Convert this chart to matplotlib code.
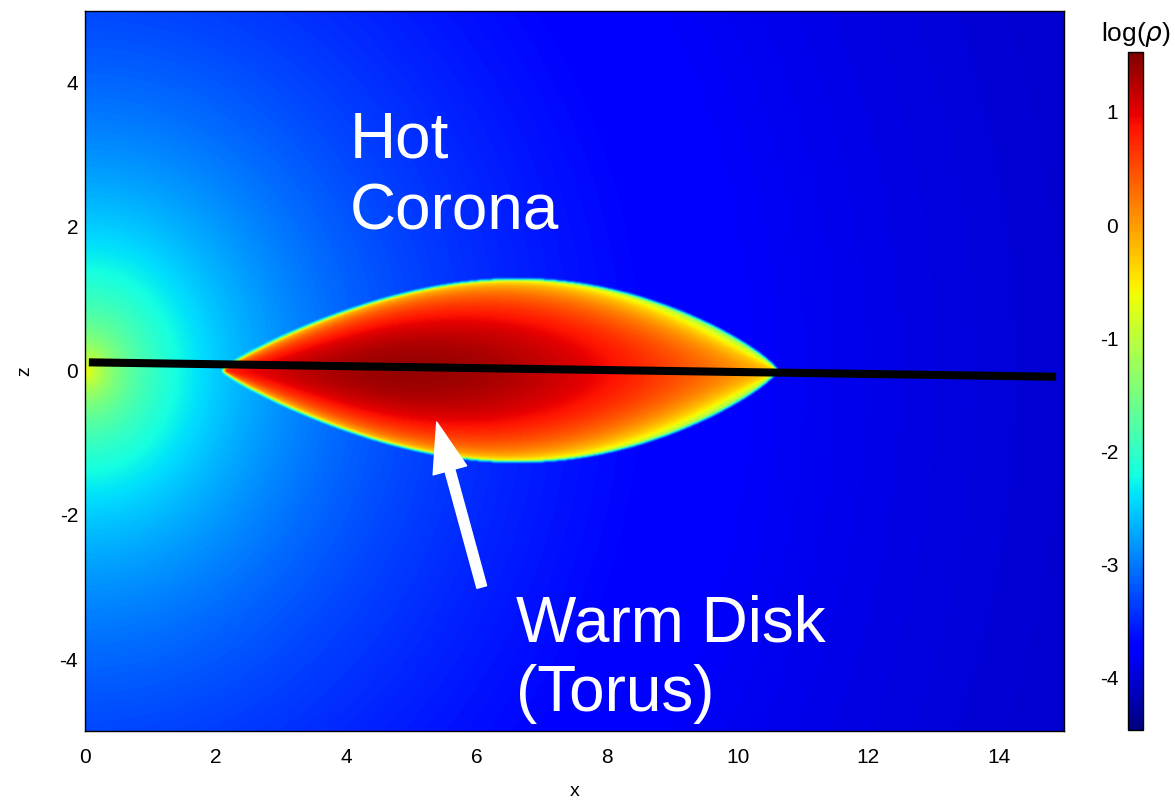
import numpy as np
import matplotlib.pyplot as plt

plt.rcParams['font.family'] = ['Liberation Sans', 'DejaVu Sans']
plt.rcParams['axes.unicode_minus'] = False

# domain (code units)
x_lim = [0, 15]
z_lim = [-5, 5]

# hot corona: log(rho) = floor + amp / (r + r_core) + small central cusp
corona_floor = -4.6
corona_amp = 10.5
corona_rcore = 3.0
cusp_amp = 0.5
cusp_scale = 0.3

# warm torus
torus_in = 2.1
torus_out = 10.6
torus_half_h = 1.27
torus_shape = 0.75
torus_skew = 1.1
torus_zc = 0.0
core_s = 0.33
core_logrho = 1.4
core_fall_in = 5.8
core_fall_out = 3.75
torus_n = 0.8
torus_vert = 0.8

# colour scale
rho_min, rho_max = -4.46, 1.53
cbar_ticks = [-4, -3, -2, -1, 0, 1]
x_ticks = [0, 2, 4, 6, 8, 10, 12, 14]
z_ticks = [-4, -2, 0, 2, 4]

# overlay: disk mid-plane line and arrow
line_x = [0.06, 14.88]
line_z = [0.12, -0.08]
arrow_tail = (6.08, -3.0)
arrow_tip = (5.39, -0.71)

# density field
x = np.linspace(x_lim[0], x_lim[1], 980)
z = np.linspace(z_lim[0], z_lim[1], 720)
X, Z = np.meshgrid(x, z)
R = np.hypot(X, Z)
log_cor = (corona_floor + corona_amp / (R + corona_rcore)
           + cusp_amp * np.exp(-R / cusp_scale))

s = np.clip((X - torus_in) / (torus_out - torus_in), 0, 1)
zb = torus_half_h * np.sin(np.pi * s**torus_skew)**torus_shape
u = (Z - torus_zc) / np.maximum(zb, 1e-9)
q = 1 - u**2
inside = (q > 0) & (s > 0) & (s < 1)
fall = np.where(s < core_s, core_fall_in, core_fall_out)
L = core_logrho - fall * (s - core_s)**2
log_tor = L + torus_n * np.log10(np.clip(q, 1e-12, None)) - torus_vert * u**2
log_tor = np.where(inside, log_tor, -30)
logrho = np.log10(10**log_tor + 10**log_cor)

# light smoothing of the sharp torus surface
k = np.array([1, 2, 3, 2, 1], float)
k /= k.sum()
pad = np.pad(logrho, 2, mode='edge')
tmp = np.apply_along_axis(lambda v: np.convolve(v, k, mode='valid'), 1, pad)
logrho = np.apply_along_axis(lambda v: np.convolve(v, k, mode='valid'), 0, tmp)

fig = plt.figure(figsize=(11.75, 8.1), dpi=100)
ax = fig.add_axes([0.0723, 0.0975, 0.8332, 0.889])
im = ax.imshow(logrho, extent=[x_lim[0], x_lim[1], z_lim[0], z_lim[1]],
               origin='lower', cmap='jet', vmin=rho_min, vmax=rho_max,
               aspect='auto', interpolation='bilinear')
ax.set_xlim(x_lim)
ax.set_ylim(z_lim)
ax.set_xticks(x_ticks)
ax.set_yticks(z_ticks)
ax.tick_params(axis='x', length=0, pad=12, labelsize=15)
ax.tick_params(axis='y', length=0, pad=5, labelsize=15)
ax.set_xlabel('x', fontsize=14, labelpad=12)
ax.set_ylabel('z', fontsize=14, labelpad=19)
for sp in ax.spines.values():
    sp.set_linewidth(1.0)

ax.plot(line_x, line_z, color='black', lw=5.8, solid_capstyle='butt')
ax.annotate('', xy=arrow_tip, xytext=arrow_tail,
            arrowprops=dict(arrowstyle='simple,head_length=3.6,head_width=2.5,tail_width=0.72',
                            mutation_scale=10, color='white', shrinkA=0, shrinkB=0))

ax.text(4.06, 2.97, 'Hot', color='white', fontsize=46, va='baseline')
ax.text(4.06, 1.97, 'Corona', color='white', fontsize=46, va='baseline')
ax.text(6.6, -3.75, 'Warm Disk', color='white', fontsize=46, va='baseline')
ax.text(6.6, -4.72, '(Torus)', color='white', fontsize=46, va='baseline')

cax = fig.add_axes([0.96, 0.0988, 0.0128, 0.837])
cb = fig.colorbar(im, cax=cax, ticks=cbar_ticks)
cax.yaxis.set_ticks_position('left')
cax.tick_params(length=0, pad=7, labelsize=15)
cb.outline.set_linewidth(1.0)
cax.set_title('log($\\rho$)', fontsize=19, pad=8)

fig.savefig('out.png', dpi=100)
